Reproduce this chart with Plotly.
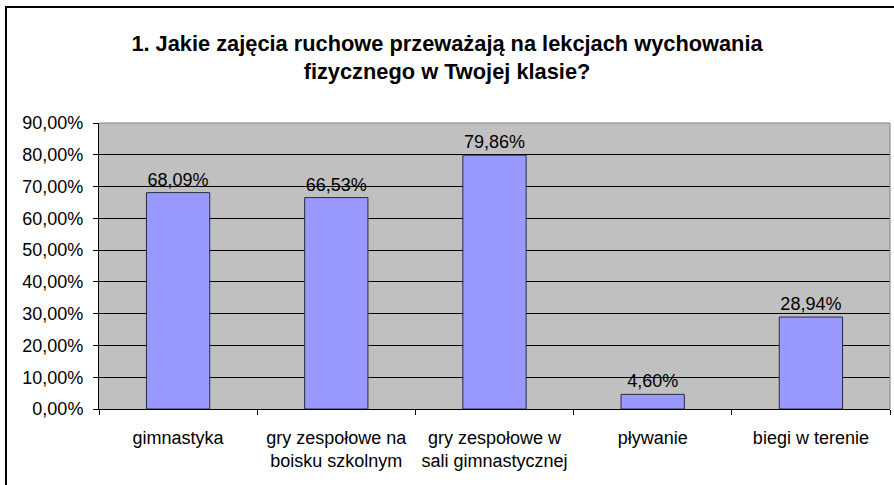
import plotly.graph_objects as go

categories = ["gimnastyka", "gry zespołowe na<br>boisku szkolnym", "gry zespołowe w<br>sali gimnastycznej", "pływanie", "biegi w terenie"]
values = [0.6809, 0.6653, 0.7986, 0.0460, 0.2894]
labels = ["68,09%", "66,53%", "79,86%", "4,60%", "28,94%"]
yticks = [0, 0.1, 0.2, 0.3, 0.4, 0.5, 0.6, 0.7, 0.8, 0.9]
yticklabels = ["0,00%", "10,00%", "20,00%", "30,00%", "40,00%", "50,00%", "60,00%", "70,00%", "80,00%", "90,00%"]
title = "1. Jakie zajęcia ruchowe przeważają na lekcjach wychowania<br>fizycznego w Twojej klasie?"

FONT = "Liberation Sans, Arial, sans-serif"

fig = go.Figure(go.Bar(
    x=categories, y=values, text=labels, textposition="outside",
    textfont=dict(size=18, color="black", family=FONT),
    marker=dict(color="#9999FF", line=dict(color="#2a2a40", width=1)),
    cliponaxis=False,
))

L, R, T, B = 99, 4, 123, 76
W, H = 894, 485
pw, ph = W - L - R, H - T - B

fig.update_layout(
    width=W, height=H,
    margin=dict(l=L, r=R, t=T, b=B),
    paper_bgcolor="white", plot_bgcolor="#C0C0C0",
    bargap=0.6,
    showlegend=False,
    font=dict(family=FONT, size=18, color="black"),
    title=dict(text="<b>" + title + "</b>", x=0.5, xanchor="center", y=1 - 51 / H, yanchor="middle",
               font=dict(size=21.8, family=FONT, color="black")),
    xaxis=dict(showgrid=False, ticks="outside", tickson="boundaries", ticklen=5, tickcolor="black",
               showline=True, linecolor="black", linewidth=1, ticklabelstandoff=12,
               tickfont=dict(size=18)),
    yaxis=dict(range=[0, 0.9], tickvals=yticks, ticktext=yticklabels, showgrid=True, gridcolor="black",
               gridwidth=1, ticks="outside", ticklen=5, tickcolor="black", showline=True,
               linecolor="black", linewidth=1, zeroline=False, ticklabelstandoff=6,
               tickfont=dict(size=18)),
    shapes=[
        dict(type="line", xref="paper", yref="paper", x0=1, x1=1, y0=0, y1=1,
             line=dict(color="#808080", width=1)),
        dict(type="line", xref="paper", yref="paper", x0=0, x1=1, y0=1, y1=1,
             line=dict(color="#808080", width=1)),
        dict(type="rect", xref="paper", yref="paper",
             x0=(6 - L) / pw, x1=(W + 10 - L) / pw,
             y0=(H - B - (H + 10)) / ph, y1=(H - B - 7) / ph,
             line=dict(color="black", width=2), layer="above"),
    ],
)

fig.write_html("out.html", config={"displayModeBar": False},
               post_script="document.body.style.margin='0';document.body.style.padding='0';")
